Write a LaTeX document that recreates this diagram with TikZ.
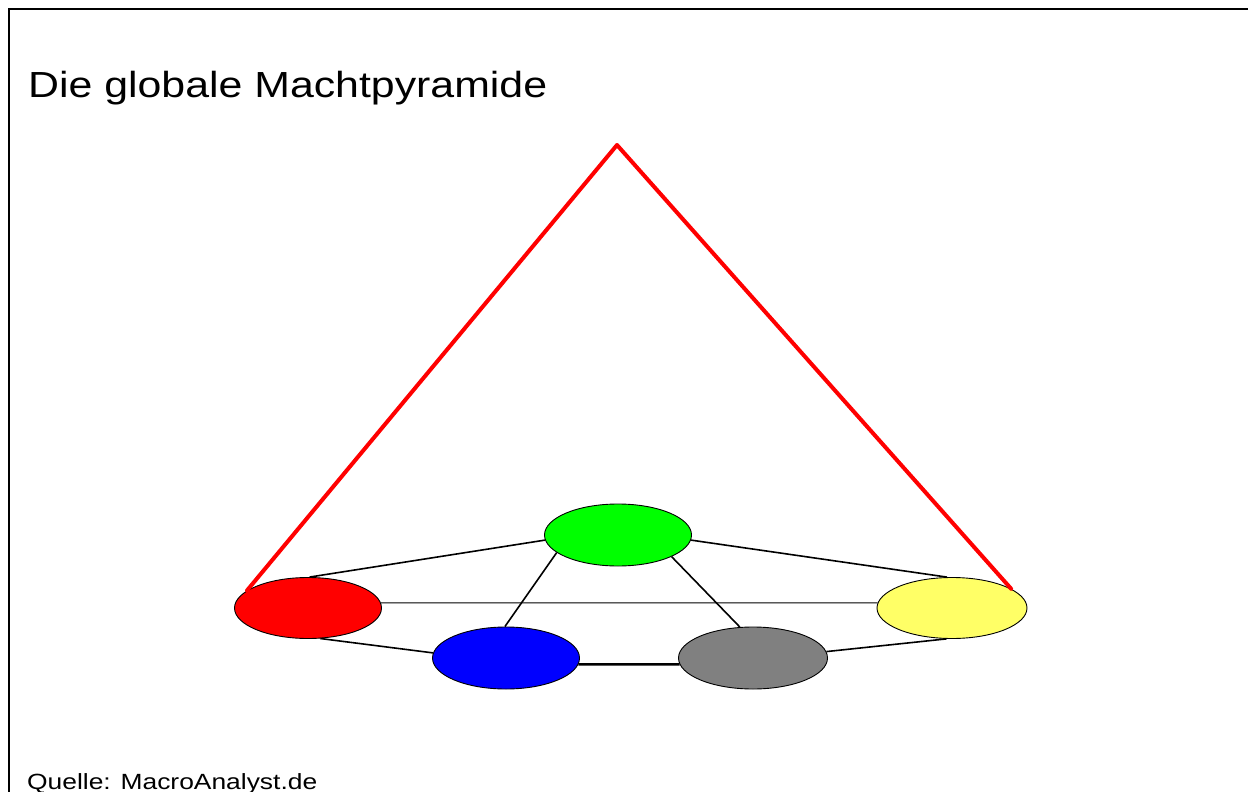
\documentclass[tikz,border=0pt]{standalone}
\usepackage{fontspec}
\setmainfont{Liberation Sans}
\usetikzlibrary{shapes.geometric}

\definecolor{pgreen}{RGB}{0,255,0}
\definecolor{pblue}{RGB}{0,0,255}
\definecolor{pgray}{RGB}{128,128,128}
\definecolor{pyellow}{RGB}{255,255,102}
\definecolor{pred}{RGB}{255,0,0}

\tikzset{
  power/.style={ellipse, draw=black, line width=0.9pt, inner sep=0pt,
                minimum width=147pt, minimum height=61pt},
  link/.style={black, line width=1.6pt},
  thinlink/.style={black, line width=1pt},
  boldlink/.style={black, line width=2.6pt},
  cone/.style={pred, line width=4pt, line join=round, line cap=round},
  frameline/.style={black, line width=2pt},
}

\begin{document}
\begin{tikzpicture}[x=1pt, y=-1pt]
  \useasboundingbox (0,0) rectangle (1248,792);

  % slide frame
  \coordinate (fbl) at (9,800);
  \coordinate (ftl) at (9,9);
  \coordinate (ftr) at (1250,9);
  \draw[frameline] (fbl) -- (ftl) -- (ftr);

  % title and source line
  \node[anchor=base west, inner sep=0pt] (title) at (28,97)
    {\scalebox{1.18}[1]{\fontsize{36.3}{40}\selectfont Die globale Machtpyramide}};
  \node[anchor=base west, inner sep=0pt] (source) at (27,789)
    {\scalebox{1.2}[1]{\fontsize{22}{24}\selectfont Quelle: MacroAnalyst.de}};

  % the five powers
  \node[power, fill=pred]    (red)    at (308,608) {};
  \node[power, fill=pgreen, minimum height=62pt]  (green)  at (618,535) {};
  \node[power, fill=pblue, minimum height=62pt]   (blue)   at (506,658) {};
  \node[power, fill=pgray, minimum width=149pt, minimum height=62pt]   (gray)   at (753,658) {};
  \node[power, fill=pyellow, minimum width=150pt] (yellow) at (952,608) {};

  % connections between the powers
  \draw[link]     (red.87)    -- (green.184);
  \draw[thinlink] (red.4)     -- (yellow.176);
  \draw[link]     (red.-68)   -- (blue.176);
  \draw[link]     (green.196) -- (blue.92);
  \draw[link]     (green.-22) -- (gray.113);
  \draw[boldlink] (blue.-5)   -- (gray.185);
  \draw[link]     (green.-4)  -- (yellow.99);
  \draw[link]     (gray.5)    -- (yellow.260);

  % the pyramid over the base
  \coordinate (apex) at (617,145);
  \draw[cone] (red.164) -- (apex) -- (yellow.18);
\end{tikzpicture}
\end{document}
